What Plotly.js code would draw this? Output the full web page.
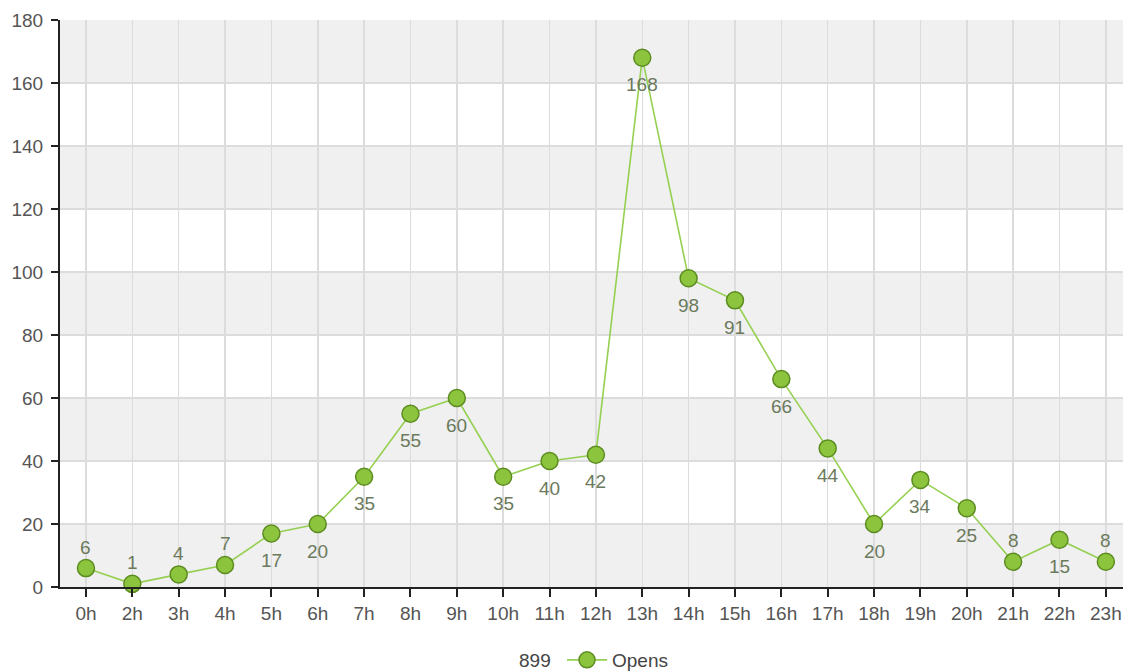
<!DOCTYPE html>
<html>
<head>
<meta charset="utf-8">
<script src="https://cdn.plot.ly/plotly-3.0.1.min.js"></script>
<style>html,body{margin:0;padding:0;background:#fff;}#chart{width:1123px;height:671px;}</style>
</head>
<body>
<div id="chart"></div>
<script>
var hours = ["0h","2h","3h","4h","5h","6h","7h","8h","9h","10h","11h","12h","13h","14h","15h","16h","17h","18h","19h","20h","21h","22h","23h"];
var opens = [6,1,4,7,17,20,35,55,60,35,40,42,168,98,91,66,44,20,34,25,8,15,8];
var labelPos = ["top","top","top","top","bottom","bottom","bottom","bottom","bottom","bottom","bottom","bottom","bottom","bottom","bottom","bottom","bottom","bottom","bottom","bottom","top","bottom","top"];
var seriesName = "Opens";
var total = opens.reduce(function(a,b){return a+b;},0);
var yTicks = [0,20,40,60,80,100,120,140,160,180];

var FONT = 'Liberation Sans, Arial, Helvetica, sans-serif';
var FS = 19;

var bands = [];
for (var i = 0; i < yTicks.length - 1; i += 2) {
  bands.push({type:'rect', xref:'paper', yref:'y', x0:0, x1:1, y0:yTicks[i], y1:yTicks[i+1],
    fillcolor:'#f0f0f0', line:{width:0}, layer:'below'});
}

var labels = hours.map(function(h, i){
  return {x:h, y:opens[i], xref:'x', yref:'y', text:String(opens[i]), showarrow:false,
    xanchor:'center', yanchor:'middle', yshift: labelPos[i] === 'top' ? 21 : -27,
    font:{family:FONT, size:FS, color:'#6b7a5c'}};
});

labels.push({text:String(total), xref:'paper', yref:'paper', x:(535-60)/1063, y:-(660-587)/567,
  xanchor:'center', yanchor:'middle', showarrow:false, font:{family:FONT, size:FS, color:'#444'}});

var trace = {
  x: hours, y: opens, type:'scatter', mode:'lines+markers', name: seriesName,
  line: {color:'#95d052', width:1.6},
  marker: {size:17, color:'#8cc43e', line:{color:'#5c8c20', width:1.5}},
  cliponaxis: false
};

var layout = {
  width:1123, height:671,
  margin:{l:60, r:0, t:20, b:84},
  paper_bgcolor:'#fff', plot_bgcolor:'#fff',
  font:{family:FONT, size:FS, color:'#555'},
  showlegend:true,
  legend:{orientation:'h', x:(562-0)/1123, xref:'container', xanchor:'left', y:(671-660)/671, yref:'container', yanchor:'middle',
    font:{family:FONT, size:FS, color:'#444'}, bgcolor:'rgba(0,0,0,0)', itemwidth:40},
  xaxis:{type:'category', range:[-0.56, 22.37], showgrid:true, gridcolor:'#dcdcdc', gridwidth:1.5,
    showline:true, linecolor:'#222', linewidth:2, ticks:'outside', ticklen:8, tickcolor:'#222', tickwidth:2,
    tickfont:{family:FONT, size:FS, color:'#555'}, zeroline:false, fixedrange:true},
  yaxis:{range:[0,180], tickvals:yTicks, showgrid:true, gridcolor:'#dcdcdc', gridwidth:1.5,
    showline:true, linecolor:'#222', linewidth:2, ticks:'outside', ticklen:7, tickcolor:'#222', tickwidth:2,
    ticklabelstandoff:4,
    tickfont:{family:FONT, size:FS, color:'#555'}, zeroline:false, fixedrange:true},
  shapes: bands,
  annotations: labels
};

Plotly.newPlot('chart', [trace], layout, {displayModeBar:false, staticPlot:true});
</script>
</body>
</html>
